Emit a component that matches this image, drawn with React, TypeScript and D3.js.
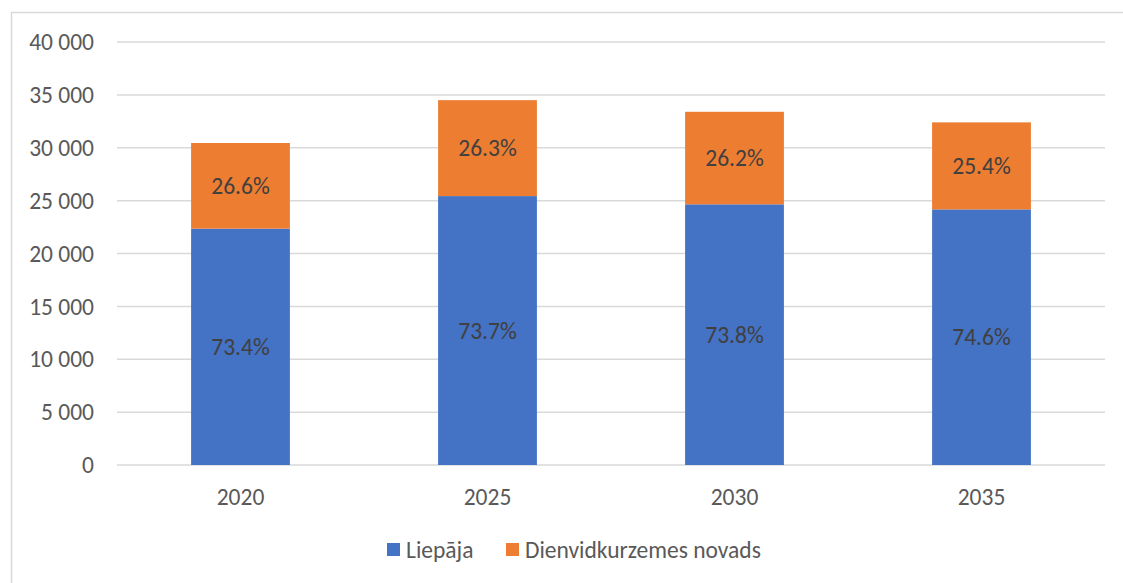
import React, { useEffect, useRef } from "react";
import * as d3 from "d3";

const years = ["2020", "2025", "2030", "2035"];
const liepaja = [22350, 25430, 24650, 24170];
const dienvid = [8100, 9070, 8750, 8230];
const liepajaLabels = ["73.4%", "73.7%", "73.8%", "74.6%"];
const dienvidLabels = ["26.6%", "26.3%", "26.2%", "25.4%"];
const yTicks = [0, 5000, 10000, 15000, 20000, 25000, 30000, 35000, 40000];
const seriesNames = ["Liepāja", "Dienvidkurzemes novads"];
const colors = ["#4472c4", "#ed7d31"];

const W = 1123;
const H = 583;
const FONT = "Calibri, Carlito, 'Open Sans', sans-serif";
const FS = 23.5;

const App: React.FC = () => {
	const svgRef = useRef<SVGSVGElement | null>(null);

	useEffect(() => {
		const svg = d3.select(svgRef.current);
		svg.selectAll("*").remove();

		const margin = { top: 42, right: 18, bottom: 118, left: 117 };
		const width = W - margin.left - margin.right;
		const height = H - margin.top - margin.bottom;

		// chart frame
		svg.append("rect")
			.attr("x", 11.5)
			.attr("y", 12.5)
			.attr("width", W)
			.attr("height", H)
			.attr("fill", "white")
			.attr("stroke", "#d9d9d9")
			.attr("stroke-width", 1.5);

		const x = d3.scaleBand().domain(years).range([0, width]).paddingInner(0.6).paddingOuter(0.3);
		const y = d3.scaleLinear().domain([0, 40000]).range([height, 0]);
		const fmt = (v: number) => d3.format(",")(v).replace(/,/g, " ");

		const g = svg.append("g").attr("transform", `translate(${margin.left},${margin.top})`);

		g.selectAll(".grid")
			.data(yTicks)
			.enter()
			.append("line")
			.attr("x1", 0)
			.attr("x2", width)
			.attr("y1", (d) => y(d))
			.attr("y2", (d) => y(d))
			.attr("stroke", "#d9d9d9")
			.attr("stroke-width", 1.5);

		g.selectAll(".ylab")
			.data(yTicks)
			.enter()
			.append("text")
			.attr("x", -23)
			.attr("y", (d) => y(d))
			.attr("dy", "0.35em")
			.attr("text-anchor", "end")
			.attr("font-family", FONT)
			.attr("font-size", FS)
			.attr("fill", "#595959")
			.text((d) => fmt(d));

		g.selectAll(".bar-l")
			.data(years)
			.enter()
			.append("rect")
			.attr("x", (d) => x(d)!)
			.attr("width", x.bandwidth())
			.attr("y", (_, i) => y(liepaja[i]))
			.attr("height", (_, i) => height - y(liepaja[i]))
			.attr("fill", colors[0]);

		g.selectAll(".bar-d")
			.data(years)
			.enter()
			.append("rect")
			.attr("x", (d) => x(d)!)
			.attr("width", x.bandwidth())
			.attr("y", (_, i) => y(liepaja[i] + dienvid[i]))
			.attr("height", (_, i) => y(liepaja[i]) - y(liepaja[i] + dienvid[i]))
			.attr("fill", colors[1]);

		g.selectAll(".lab-l")
			.data(years)
			.enter()
			.append("text")
			.attr("x", (d) => x(d)! + x.bandwidth() / 2)
			.attr("y", (_, i) => y(liepaja[i] / 2))
			.attr("dy", "0.35em")
			.attr("text-anchor", "middle")
			.attr("font-family", FONT)
			.attr("font-size", FS)
			.attr("fill", "#404040")
			.text((_, i) => liepajaLabels[i]);

		g.selectAll(".lab-d")
			.data(years)
			.enter()
			.append("text")
			.attr("x", (d) => x(d)! + x.bandwidth() / 2)
			.attr("y", (_, i) => y(liepaja[i] + dienvid[i] / 2))
			.attr("dy", "0.35em")
			.attr("text-anchor", "middle")
			.attr("font-family", FONT)
			.attr("font-size", FS)
			.attr("fill", "#404040")
			.text((_, i) => dienvidLabels[i]);

		g.selectAll(".xlab")
			.data(years)
			.enter()
			.append("text")
			.attr("x", (d) => x(d)! + x.bandwidth() / 2)
			.attr("y", height + 32)
			.attr("dy", "0.35em")
			.attr("text-anchor", "middle")
			.attr("font-family", FONT)
			.attr("font-size", FS)
			.attr("fill", "#595959")
			.text((d) => d);

		// legend
		const legendX = [387, 506];
		const lg = svg.append("g");
		seriesNames.forEach((name, i) => {
			lg.append("rect")
				.attr("x", legendX[i])
				.attr("y", 543)
				.attr("width", 13)
				.attr("height", 13)
				.attr("fill", colors[i]);
			lg.append("text")
				.attr("x", legendX[i] + 19)
				.attr("y", 550)
				.attr("dy", "0.35em")
				.attr("font-family", FONT)
				.attr("font-size", FS)
				.attr("fill", "#595959")
				.text(name);
		});
	}, []);

	return (
		<svg
			ref={svgRef}
			width={W}
			height={H}
			style={{ position: "absolute", left: 0, top: 0, background: "white" }}
		></svg>
	);
};

export default App;
